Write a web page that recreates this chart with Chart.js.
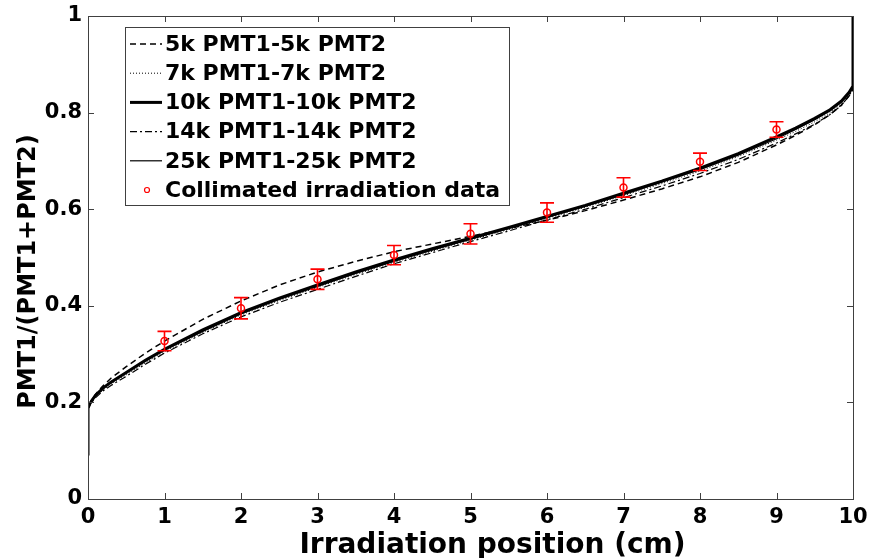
<!DOCTYPE html>
<html>
<head>
<meta charset="utf-8">
<title>PMT ratio vs irradiation position</title>
<script src="https://cdn.jsdelivr.net/npm/chart.js@4.4.1/dist/chart.umd.min.js"></script>
<style>
  html, body { margin: 0; padding: 0; background: #fff; }
  #wrap { position: relative; width: 869px; height: 558px; }
</style>
</head>
<body>
<div id="wrap"><canvas id="ratioChart"></canvas></div>
<script>
// simulated response curves, sampled at these positions (cm)
const positions = [0, 0, 0.02, 0.05, 0.1, 0.2, 0.3, 0.5, 0.75, 1, 1.5, 2, 2.5, 3, 3.5, 4, 4.5, 5,
  5.5, 6, 6.5, 7, 7.5, 8, 8.5, 9, 9.25, 9.5, 9.7, 9.85, 9.95, 10, 10];

const ratio5k = [0.09, 0.185, 0.195, 0.205, 0.217, 0.235, 0.25, 0.274, 0.302, 0.327, 0.372, 0.41,
  0.443, 0.47, 0.492, 0.512, 0.528, 0.544, 0.56, 0.577, 0.597, 0.619, 0.642, 0.667, 0.697, 0.733,
  0.753, 0.775, 0.796, 0.816, 0.835, 0.848, 1.0];
const ratio7k = [0.09, 0.188, 0.195, 0.202, 0.212, 0.226, 0.238, 0.257, 0.282, 0.305, 0.345, 0.381,
  0.411, 0.438, 0.465, 0.49, 0.513, 0.536, 0.558, 0.581, 0.604, 0.628, 0.653, 0.679, 0.709, 0.743,
  0.761, 0.781, 0.8, 0.819, 0.838, 0.852, 1.0];
const ratio10k = [0.09, 0.188, 0.196, 0.204, 0.215, 0.23, 0.242, 0.262, 0.287, 0.31, 0.35, 0.386,
  0.416, 0.443, 0.47, 0.495, 0.518, 0.54, 0.562, 0.585, 0.608, 0.633, 0.658, 0.685, 0.715, 0.75,
  0.768, 0.788, 0.806, 0.824, 0.842, 0.855, 1.0];
const ratio14k = [0.09, 0.186, 0.193, 0.2, 0.21, 0.224, 0.235, 0.254, 0.279, 0.302, 0.342, 0.377,
  0.407, 0.434, 0.461, 0.487, 0.51, 0.533, 0.555, 0.578, 0.6, 0.624, 0.648, 0.674, 0.703, 0.737,
  0.756, 0.776, 0.796, 0.815, 0.835, 0.85, 1.0];
const ratio25k = [0.09, 0.188, 0.197, 0.206, 0.216, 0.231, 0.243, 0.262, 0.286, 0.308, 0.347, 0.383,
  0.413, 0.44, 0.467, 0.492, 0.515, 0.538, 0.56, 0.583, 0.606, 0.63, 0.656, 0.682, 0.712, 0.746,
  0.765, 0.785, 0.804, 0.822, 0.84, 0.853, 1.0];

// collimated source measurements with their error
const measuredX = [1, 2, 3, 4, 5, 6, 7, 8, 9];
const measuredY = [0.327, 0.395, 0.455, 0.505, 0.549, 0.593, 0.645, 0.698, 0.765];
const measuredErr = [0.02, 0.022, 0.021, 0.02, 0.021, 0.02, 0.02, 0.018, 0.016];

const seriesLabels = ['5k PMT1-5k PMT2', '7k PMT1-7k PMT2', '10k PMT1-10k PMT2',
  '14k PMT1-14k PMT2', '25k PMT1-25k PMT2', 'Collimated irradiation data'];

const xTickValues = [0, 1, 2, 3, 4, 5, 6, 7, 8, 9, 10];
const xTickLabels = ['0', '1', '2', '3', '4', '5', '6', '7', '8', '9', '10'];
const yTickValues = [0, 0.2, 0.4, 0.6, 0.8, 1];
const yTickLabels = ['0', '0.2', '0.4', '0.6', '0.8', '1'];

const xTitle = 'Irradiation position (cm)';
const yTitle = 'PMT1/(PMT1+PMT2)';

const FONT = '"DejaVu Sans", "Liberation Sans", sans-serif';
const FRAME = '#404040';

function toPoints(xs, ys) {
  return xs.map((x, i) => ({ x, y: ys[i] }));
}

function curve(label, ys, width, dash) {
  return {
    label,
    data: toPoints(positions, ys),
    showLine: true,
    borderColor: '#000',
    borderWidth: width,
    borderDash: dash,
    pointRadius: 0,
    tension: 0,
    order: 1
  };
}

// boxed axes with inward ticks on all four sides, plus axis titles
const frameAxes = {
  id: 'frameAxes',
  afterDraw(chart) {
    const { ctx, chartArea: a, scales } = chart;
    const tick = 6;
    ctx.save();
    ctx.strokeStyle = FRAME;
    ctx.lineWidth = 1;
    ctx.strokeRect(a.left + 0.5, a.top + 0.5, a.right - a.left, a.bottom - a.top);
    ctx.beginPath();
    xTickValues.forEach(v => {
      const px = Math.round(scales.x.getPixelForValue(v)) + 0.5;
      ctx.moveTo(px, a.bottom); ctx.lineTo(px, a.bottom - tick);
      ctx.moveTo(px, a.top); ctx.lineTo(px, a.top + tick);
    });
    yTickValues.forEach(v => {
      const py = Math.round(scales.y.getPixelForValue(v)) + 0.5;
      ctx.moveTo(a.left, py); ctx.lineTo(a.left + tick, py);
      ctx.moveTo(a.right, py); ctx.lineTo(a.right - tick, py);
    });
    ctx.stroke();

    ctx.fillStyle = '#000';
    ctx.textAlign = 'center';
    ctx.textBaseline = 'alphabetic';
    ctx.font = `bold 28px ${FONT}`;
    ctx.fillText(xTitle, (a.left + a.right) / 2 + 22, 553);
    ctx.translate(35, (a.top + a.bottom) / 2 + 14);
    ctx.rotate(-Math.PI / 2);
    ctx.font = `bold 24px ${FONT}`;
    ctx.fillText(yTitle, 0, 0);
    ctx.restore();
  }
};

// vertical error bars with caps on the measured points
const errorBars = {
  id: 'errorBars',
  afterDatasetsDraw(chart) {
    const { ctx, scales } = chart;
    const cap = 7;
    ctx.save();
    ctx.strokeStyle = '#ff0000';
    ctx.lineWidth = 1.6;
    ctx.beginPath();
    measuredX.forEach((x, i) => {
      const px = scales.x.getPixelForValue(x);
      const top = scales.y.getPixelForValue(measuredY[i] + measuredErr[i]);
      const bottom = scales.y.getPixelForValue(measuredY[i] - measuredErr[i]);
      ctx.moveTo(px, top); ctx.lineTo(px, bottom);
      ctx.moveTo(px - cap, top); ctx.lineTo(px + cap, top);
      ctx.moveTo(px - cap, bottom); ctx.lineTo(px + cap, bottom);
    });
    ctx.stroke();
    ctx.restore();
  }
};

// boxed legend in the upper left corner of the plot
const boxLegend = {
  id: 'boxLegend',
  afterDraw(chart) {
    const { ctx, chartArea: a } = chart;
    const left = a.left + 37;
    const top = a.top + 11;
    const width = 384;
    const height = 178;
    ctx.save();
    ctx.fillStyle = '#fff';
    ctx.fillRect(left, top, width, height);
    ctx.strokeStyle = FRAME;
    ctx.lineWidth = 1;
    ctx.strokeRect(left + 0.5, top + 0.5, width, height);

    ctx.font = `bold 22px ${FONT}`;
    ctx.textBaseline = 'middle';
    ctx.textAlign = 'left';
    chart.data.datasets.forEach((ds, i) => {
      const y = top + 17 + i * 29.2;
      if (ds.showLine) {
        ctx.strokeStyle = ds.borderColor;
        ctx.lineWidth = ds.borderWidth;
        ctx.setLineDash(ds.borderDash || []);
        ctx.beginPath();
        ctx.moveTo(left + 5, y);
        ctx.lineTo(left + 37, y);
        ctx.stroke();
        ctx.setLineDash([]);
      } else {
        ctx.strokeStyle = ds.pointBorderColor;
        ctx.lineWidth = 1.2;
        ctx.beginPath();
        ctx.arc(left + 22, y, 2.5, 0, Math.PI * 2);
        ctx.stroke();
      }
      ctx.fillStyle = '#000';
      ctx.fillText(ds.label, left + 40, y + 1);
    });
    ctx.restore();
  }
};

function renderChart() {
  const canvas = document.getElementById('ratioChart');
  if (!canvas || typeof Chart === 'undefined') return;

  new Chart(canvas, {
    type: 'scatter',
    data: {
      datasets: [
        curve(seriesLabels[0], ratio5k, 1.5, [6, 4]),
        curve(seriesLabels[1], ratio7k, 1, [1, 2]),
        curve(seriesLabels[2], ratio10k, 3, []),
        curve(seriesLabels[3], ratio14k, 1.2, [7, 3, 2, 3]),
        curve(seriesLabels[4], ratio25k, 1.2, []),
        {
          label: seriesLabels[5],
          data: toPoints(measuredX, measuredY),
          showLine: false,
          pointStyle: 'circle',
          pointRadius: 3.5,
          pointBorderWidth: 1.5,
          pointBorderColor: '#ff0000',
          pointBackgroundColor: 'rgba(0,0,0,0)',
          order: 0
        }
      ]
    },
    options: {
      responsive: true,
      maintainAspectRatio: false,
      animation: false,
      layout: { padding: { left: 0, right: 16, top: 16, bottom: 0 } },
      scales: {
        x: {
          type: 'linear',
          min: 0,
          max: 10,
          afterFit: scale => {
            scale.height = 59;
            scale.paddingLeft = 0;
            scale.paddingRight = 0;
          },
          afterBuildTicks: scale => { scale.ticks = xTickValues.map(value => ({ value })); },
          grid: { display: false, drawTicks: false },
          border: { display: false },
          ticks: {
            padding: 6,
            color: '#000',
            font: { family: FONT, size: 21, weight: 'bold' },
            callback: value => xTickLabels[xTickValues.indexOf(value)]
          }
        },
        y: {
          type: 'linear',
          min: 0,
          max: 1,
          afterFit: scale => {
            scale.width = 88;
            scale.paddingTop = 0;
            scale.paddingBottom = 0;
          },
          afterBuildTicks: scale => { scale.ticks = yTickValues.map(value => ({ value })); },
          grid: { display: false, drawTicks: false },
          border: { display: false },
          ticks: {
            padding: 6,
            color: '#000',
            font: { family: FONT, size: 21, weight: 'bold' },
            callback: value => yTickLabels[yTickValues.indexOf(value)]
          }
        }
      },
      plugins: {
        legend: { display: false },
        tooltip: { enabled: false }
      }
    },
    plugins: [frameAxes, errorBars, boxLegend]
  });
}

document.addEventListener('DOMContentLoaded', renderChart);
</script>
</body>
</html>
